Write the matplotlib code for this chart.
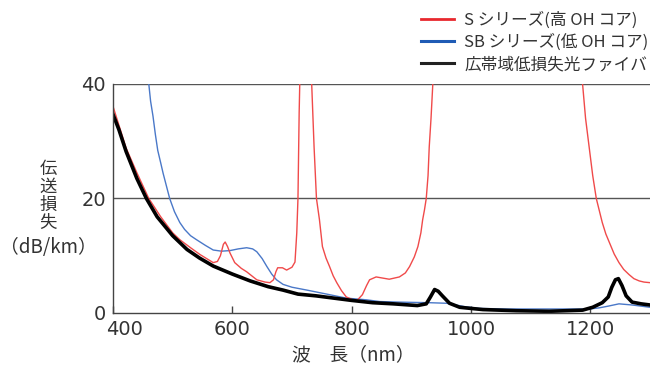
import numpy as np
import matplotlib.pyplot as plt
import matplotlib.transforms as mtransforms
from matplotlib.lines import Line2D

plt.rcParams['font.family'] = ['Noto Sans CJK JP', 'DejaVu Sans']

# broadband low-loss fiber (black)
bb_nm = [400, 410, 422, 440, 456, 474, 500, 524, 545, 568, 600, 630, 660, 685,
         710, 740, 770, 800, 835, 870, 910, 925, 932, 939, 945, 952, 964, 981,
         1000, 1020, 1076, 1131, 1187, 1204, 1220, 1230, 1236, 1242, 1247, 1253,
         1260, 1270, 1285, 1300]
bb_loss = [34.7, 32.0, 28.2, 23.5, 20.0, 16.8, 13.5, 11.1, 9.6, 8.2, 6.8, 5.6, 4.6, 4.0,
           3.3, 3.0, 2.6, 2.2, 1.8, 1.6, 1.3, 1.6, 2.8, 4.1, 3.8, 3.0, 1.7, 1.0,
           0.8, 0.6, 0.4, 0.3, 0.5, 1.0, 1.8, 2.8, 4.5, 5.8, 6.0, 4.8,
           3.0, 1.9, 1.6, 1.4]

# S series, high OH (red)
s_nm = [400, 422, 440, 460, 480, 500, 512, 530, 546, 568, 575, 580, 585, 588, 592,
        596, 604, 615, 624, 641, 655, 663, 669, 673, 676, 684, 691, 700, 705, 708,
        710, 712, 716, 730, 733, 737, 741, 746, 751, 757, 763, 769, 775, 783, 791, 802,
        810, 818, 825, 830, 841, 852, 863, 880, 890, 897, 905, 911, 916, 919, 922, 925,
        928, 930, 933, 936, 940, 1180, 1187, 1192, 1198, 1204, 1210, 1220, 1226, 1232,
        1240, 1248, 1256, 1265, 1273, 1282, 1290, 1300]
s_loss = [36.1, 28.8, 24.5, 20.0, 16.8, 14.0, 12.8, 11.4, 10.2, 8.8, 9.0, 10.0, 12.0, 12.4, 11.6,
          10.5, 8.8, 7.8, 7.2, 5.8, 5.4, 5.3, 5.8, 7.2, 7.9, 7.9, 7.5, 8.0, 8.9, 14.0,
          20.0, 35.0, 55.0, 55.0, 40.0, 29.0, 20.0, 16.3, 11.6, 9.6, 8.1, 6.5, 5.3, 3.9, 2.8, 2.3,
          2.3, 3.2, 4.8, 5.8, 6.3, 6.1, 5.9, 6.3, 7.0, 8.1, 9.8, 11.6, 14.0, 16.3, 18.0, 20.0,
          24.0, 29.0, 34.0, 40.0, 55.0, 55.0, 40.0, 34.0, 29.0, 24.0, 20.0, 15.8, 13.8, 12.3,
          10.3, 8.8, 7.6, 6.7, 6.0, 5.6, 5.4, 5.3]

# SB series, low OH (blue)
sb_nm = [455, 460, 463, 467, 471, 475, 480, 484, 490, 495, 503, 512, 520, 530, 540,
         555, 568, 582, 596, 610, 624, 634, 641, 650, 658, 666, 674, 685, 700, 725,
         763, 791, 825, 847, 880, 930, 959, 990, 1014, 1060, 1115, 1198, 1215, 1230,
         1248, 1270, 1300]
sb_loss = [48.0, 40.0, 37.0, 34.4, 31.2, 28.4, 26.2, 24.4, 22.0, 20.0, 17.7, 15.8, 14.6, 13.5, 12.8,
           11.8, 11.0, 10.8, 10.9, 11.2, 11.4, 11.2, 10.7, 9.5, 8.1, 6.8, 5.8, 5.0, 4.5, 4.0,
           3.2, 2.6, 2.3, 2.0, 1.9, 1.8, 1.7, 1.1, 0.8, 0.7, 0.7, 0.7, 0.9, 1.2,
           1.6, 1.4, 1.0]

xticks = [400, 600, 800, 1000, 1200]
yticks = [0, 20, 40]

fig = plt.figure(figsize=(6.5, 3.69), dpi=100)
ax = fig.add_axes([113/650, 56/369, 537/650, 229/369])

ax.plot(sb_nm, sb_loss, color='#4a78c8', lw=1.0)
ax.plot(s_nm, s_loss, color='#f04a4a', lw=1.0)
ax.plot(bb_nm, bb_loss, color='black', lw=2.6)

ax.set_xlim(400, 1300)
ax.set_ylim(0, 40)
for y in [20, 40]:
    ax.axhline(y, color='#555555', lw=1.0, zorder=0)

for s in ['top', 'right']:
    ax.spines[s].set_visible(False)
for s in ['left', 'bottom']:
    ax.spines[s].set_color('#444444')
    ax.spines[s].set_linewidth(1.0)

ax.set_xticks(xticks)
ax.set_xticklabels([str(v) for v in xticks], family='DejaVu Sans')
ax.set_yticks(yticks)
ax.set_yticklabels([str(v) for v in yticks], family='DejaVu Sans')
ax.tick_params(axis='x', direction='in', length=5, width=1, color='#444444',
               labelsize=14, labelcolor='#333333', pad=5)
ax.tick_params(axis='y', length=0, labelsize=14, labelcolor='#333333', pad=5)
lab400 = ax.get_xticklabels()[0]
lab400.set_transform(lab400.get_transform() +
                     mtransforms.ScaledTranslation(11/100, 0, fig.dpi_scale_trans))

# axis labels
fig.text(48/650, 1 - 196/369, '伝\n送\n損\n失', ha='center', va='center',
         fontsize=12.5, color='#333333', linespacing=1.0)
fig.text(48/650, 1 - 248/369, '（dB/km）', ha='center', va='center',
         fontsize=13.5, color='#333333')
fig.text(353/650, 1 - 355/369, '波　長（nm）', ha='center', va='center',
         fontsize=13.5, color='#333333')

handles = [Line2D([], [], color='#e8282e', lw=2),
           Line2D([], [], color='#1f5bb5', lw=2.2),
           Line2D([], [], color='#222222', lw=2.2)]
labels = ['S シリーズ(高 OH コア)', 'SB シリーズ(低 OH コア)', '広帯域低損失光ファイバ']
fig.legend(handles, labels, loc='upper left', bbox_to_anchor=(414/650, 1 - 5/369),
           frameon=False, fontsize=12, handlelength=2.0, handletextpad=0.6,
           labelspacing=0.3, borderaxespad=0, labelcolor='#333333')

plt.savefig('out.png', dpi=100)
